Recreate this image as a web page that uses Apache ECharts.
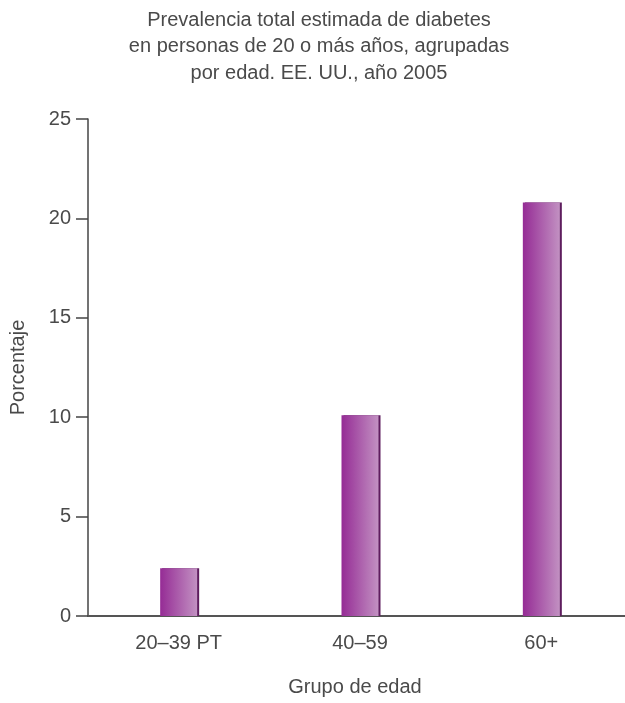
<!DOCTYPE html>
<html>
<head>
<meta charset="utf-8">
<script src="https://cdn.jsdelivr.net/npm/echarts@6/dist/echarts.min.js"></script>
<style>html,body{margin:0;padding:0;background:#fff}#c{width:625px;height:703px}</style>
</head>
<body>
<div id="c"></div>
<script>
const categories = ['20–39 PT', '40–59', '60+'];
const values = [2.4, 10.1, 20.8];
const yTicks = [0, 5, 10, 15, 20, 25];
const titleText = 'Prevalencia total estimada de diabetes\nen personas de 20 o más años, agrupadas\npor edad. EE. UU., año 2005';

const chart = echarts.init(document.getElementById('c'), null, {renderer: 'canvas'});
const font = 'Liberation Sans';
const txt = '#4a4a4a';
chart.setOption({
  animation: false,
  title: {
    text: titleText,
    left: 314, top: 2, textAlign: 'center',
    textStyle: {fontFamily: font, fontSize: 20, fontWeight: 'normal', color: txt, lineHeight: 26.5, align: 'center'}
  },
  grid: {left: 88, right: -7, top: 119, bottom: 87, containLabel: false, outerBoundsMode: 'none'},
  xAxis: {
    type: 'category', data: categories,
    name: 'Grupo de edad', nameLocation: 'middle', nameGap: 61,
    nameTextStyle: {fontFamily: font, fontSize: 20, color: txt, padding: [0, 0, 0, -10]},
    axisLine: {lineStyle: {color: '#555', width: 2}},
    axisTick: {show: false},
    axisLabel: {fontFamily: font, fontSize: 20, color: txt, margin: 17}
  },
  yAxis: {
    type: 'value', min: 0, max: 25, interval: 5,
    name: 'Porcentaje', nameLocation: 'middle', nameGap: 60, nameRotate: 90,
    nameTextStyle: {fontFamily: font, fontSize: 20, color: txt},
    axisLine: {show: true, lineStyle: {color: '#444', width: 1.5}},
    axisTick: {show: true, length: 12, lineStyle: {color: '#444', width: 1.5}},
    axisLabel: {fontFamily: font, fontSize: 20, color: txt, margin: 17,
      formatter: v => yTicks.includes(v) ? String(v) : ''},
    splitLine: {show: false}
  },
  series: [{
    type: 'bar', data: values, barWidth: 37,
    itemStyle: {
      color: new echarts.graphic.LinearGradient(0, 0, 1, 0, [
        {offset: 0, color: '#952b95'},
        {offset: 1, color: '#c291c2'}
      ]),
      shadowColor: '#5e1d5e', shadowOffsetX: 2, shadowOffsetY: 0, shadowBlur: 0
    }
  }]
});
</script>
</body>
</html>
